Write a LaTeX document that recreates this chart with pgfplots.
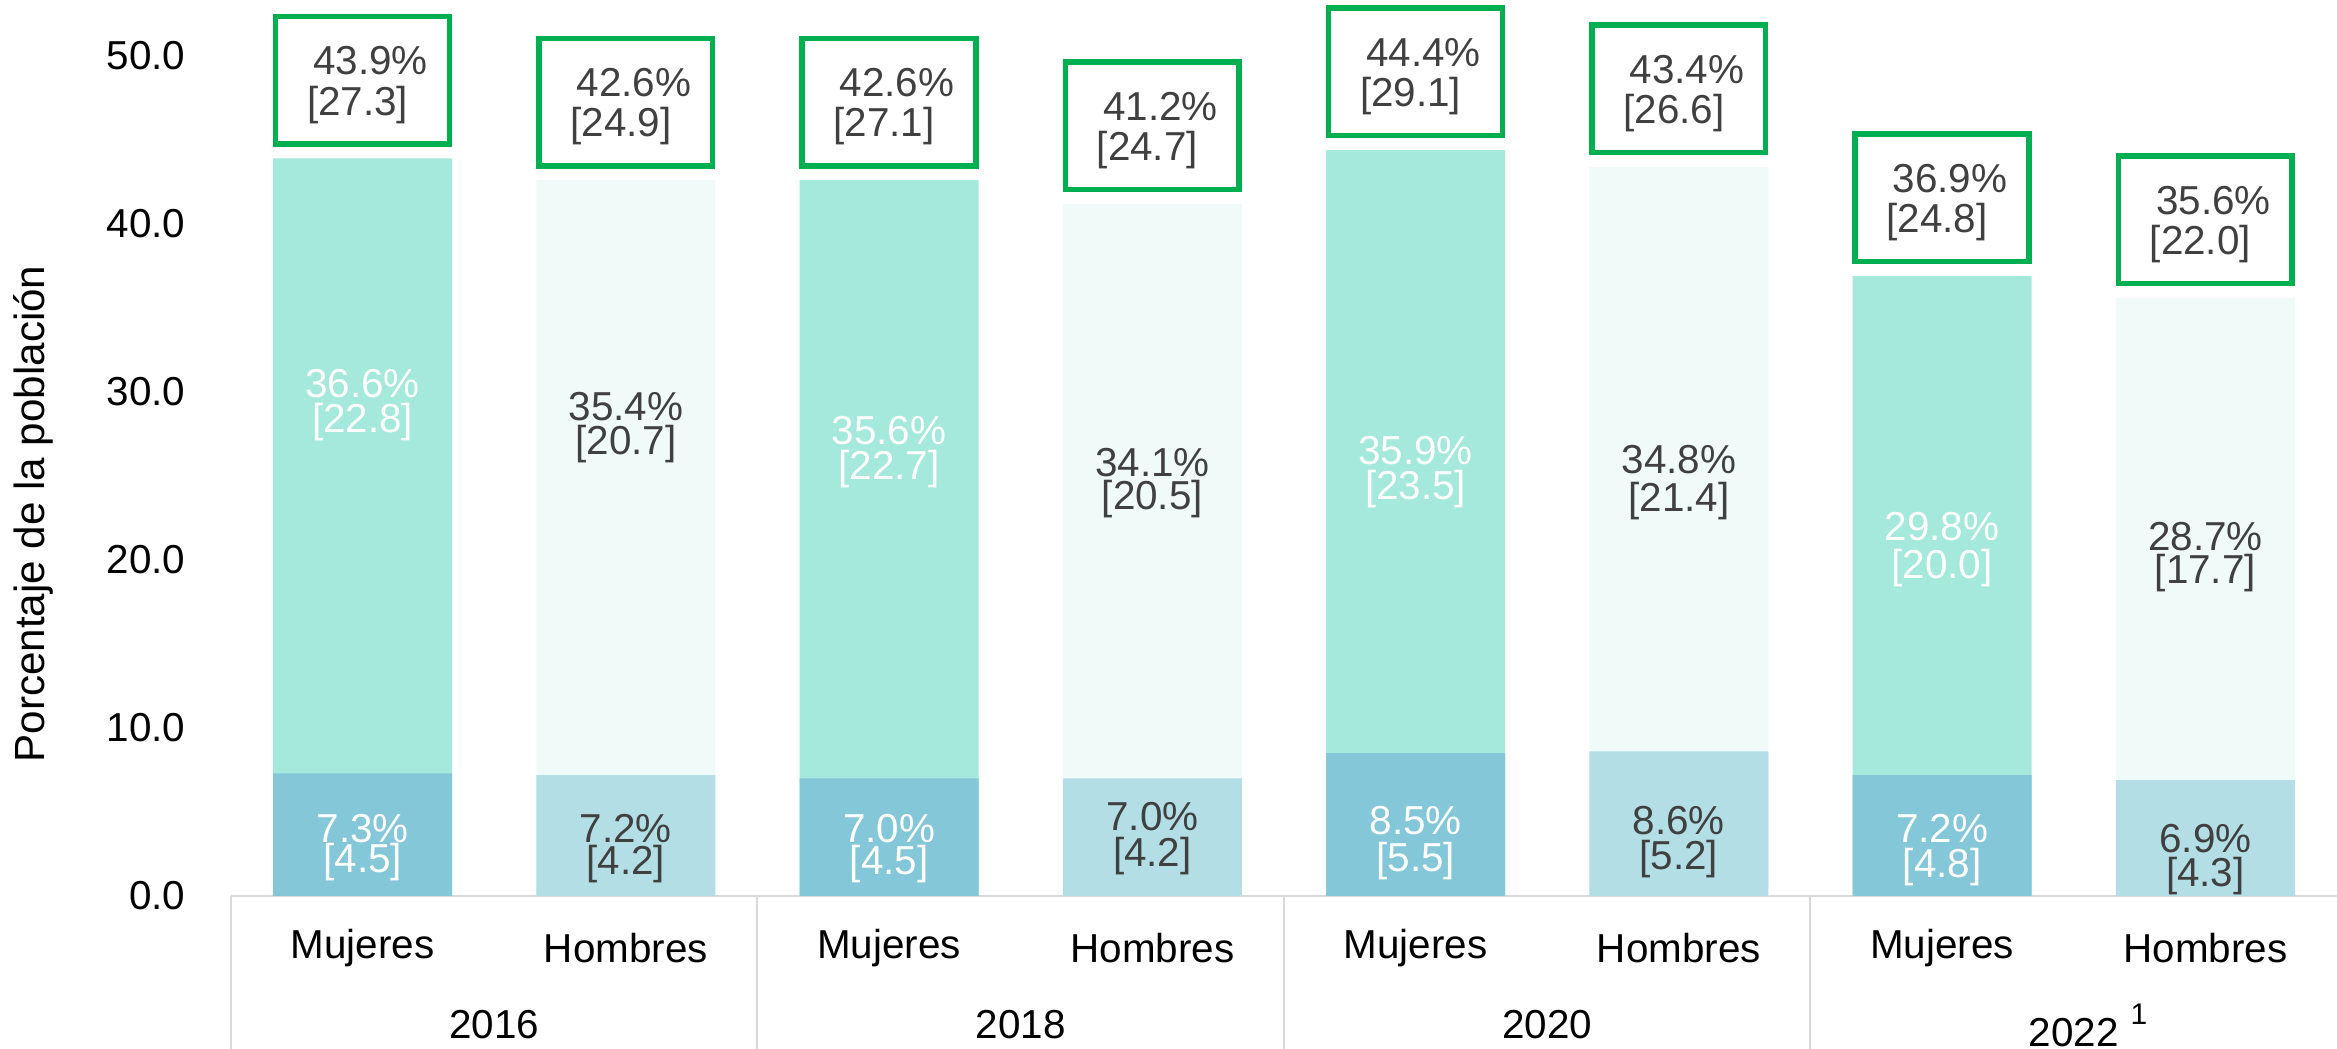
\documentclass[border=0pt]{standalone}
\usepackage{pgfplots}
\pgfplotsset{compat=1.18}
\usepackage{fontspec}
\setmainfont{Liberation Sans}

\definecolor{mujbot}{HTML}{83C7D8}
\definecolor{mujtop}{HTML}{A5E8DC}
\definecolor{hombot}{HTML}{B3DEE6}
\definecolor{homtop}{HTML}{F0FAF8}
\definecolor{boxgreen}{HTML}{00B050}
\definecolor{lblgray}{HTML}{404040}
\definecolor{axgray}{HTML}{D9D9D9}

\newcommand{\lbfont}{\fontsize{11.5}{13}\selectfont}
% label pair inside a segment: x, y of pct, y of bracket, colour, pct, bracket
\newcommand{\lab}[6]{%
  \node[font=\lbfont, text=#4, inner sep=0pt] at (axis cs:#1,#2) {#5};
  \node[font=\lbfont, text=#4, inner sep=0pt] at (axis cs:#1,#3) {[#6]};}
% green box above a bar: x, total, pct, bracket
\newcommand{\tbox}[4]{%
  \draw[boxgreen, line width=0.055cm] (axis cs:{#1-0.33},{#2+0.85}) rectangle (axis cs:{#1+0.33},{#2+8.45});
  \node[font=\lbfont, text=lblgray, inner sep=0pt, xshift=0.08cm] at (axis cs:#1,{#2+5.8}) {#3};
  \node[font=\lbfont, text=lblgray, inner sep=0pt, xshift=-0.05cm] at (axis cs:#1,{#2+3.2}) {[#4]};}

\begin{document}
\begin{tikzpicture}
\path[use as bounding box] (-2.31,-1.53) rectangle (21.06,8.96);
\begin{axis}[
  at={(0,0)}, anchor=south west,
  scale only axis, width=21.06cm, height=8.96cm,
  xmin=-0.5, xmax=7.5, ymin=0, ymax=53.33,
  clip=false,
  axis x line*=bottom, axis y line*=left,
  x axis line style={draw=axgray, line width=0.02cm},
  y axis line style={draw=none},
  major tick length=0pt,
  ytick={0,10,...,50},
  yticklabel style={font=\lbfont, inner sep=0pt, anchor=east, xshift=-0.45cm,
    /pgf/number format/.cd, fixed, fixed zerofill, precision=1, assume math mode=true},
  xtick={0,...,7},
  xticklabels={Mujeres,Hombres,Mujeres,Hombres,Mujeres,Hombres,Mujeres,Hombres},
  xticklabel style={font=\lbfont, inner sep=0pt, anchor=center, yshift=-0.52cm},
  bar/.style={ybar, bar width=0.68, bar shift=0pt, draw=none},
]
% totals (upper segment colour), then lower segment on top
\addplot[bar, fill=mujtop] coordinates {(0,43.9) (2,42.6) (4,44.4) (6,36.9)};
\addplot[bar, fill=mujbot] coordinates {(0,7.3) (2,7.0) (4,8.5) (6,7.2)};
\addplot[bar, fill=homtop] coordinates {(1,42.6) (3,41.2) (5,43.4) (7,35.6)};
\addplot[bar, fill=hombot] coordinates {(1,7.2) (3,7.0) (5,8.6) (7,6.9)};

% lower segment labels
\lab{0}{4.0}{2.0}{white}{7.3\%}{4.5}
\lab{1}{4.0}{1.9}{lblgray}{7.2\%}{4.2}
\lab{2}{4.0}{1.9}{white}{7.0\%}{4.5}
\lab{3}{4.7}{2.4}{lblgray}{7.0\%}{4.2}
\lab{4}{4.5}{2.1}{white}{8.5\%}{5.5}
\lab{5}{4.5}{2.2}{lblgray}{8.6\%}{5.2}
\lab{6}{4.0}{1.7}{white}{7.2\%}{4.8}
\lab{7}{3.4}{1.2}{lblgray}{6.9\%}{4.3}

% upper segment labels
\lab{0}{30.5}{28.2}{white}{36.6\%}{22.8}
\lab{1}{29.1}{26.9}{lblgray}{35.4\%}{20.7}
\lab{2}{27.7}{25.4}{white}{35.6\%}{22.7}
\lab{3}{25.8}{23.6}{lblgray}{34.1\%}{20.5}
\lab{4}{26.5}{24.2}{white}{35.9\%}{23.5}
\lab{5}{26.0}{23.5}{lblgray}{34.8\%}{21.4}
\lab{6}{22.0}{19.5}{white}{29.8\%}{20.0}
\lab{7}{21.4}{19.2}{lblgray}{28.7\%}{17.7}

% totals in green boxes
\tbox{0}{43.9}{43.9\%}{27.3}
\tbox{1}{42.6}{42.6\%}{24.9}
\tbox{2}{42.6}{42.6\%}{27.1}
\tbox{3}{41.2}{41.2\%}{24.7}
\tbox{4}{44.4}{44.4\%}{29.1}
\tbox{5}{43.4}{43.4\%}{26.6}
\tbox{6}{36.9}{36.9\%}{24.8}
\tbox{7}{35.6}{35.6\%}{22.0}

% year group separators and labels
\draw[axgray, line width=0.02cm] (axis cs:-0.5,0) -- ++(0pt,-1.6cm);
\draw[axgray, line width=0.02cm] (axis cs:1.5,0) -- ++(0pt,-1.6cm);
\draw[axgray, line width=0.02cm] (axis cs:3.5,0) -- ++(0pt,-1.6cm);
\draw[axgray, line width=0.02cm] (axis cs:5.5,0) -- ++(0pt,-1.6cm);
\node[font=\lbfont, inner sep=0pt] at (axis cs:0.5,0) [yshift=-1.29cm] {2016};
\node[font=\lbfont, inner sep=0pt] at (axis cs:2.5,0) [yshift=-1.29cm] {2018};
\node[font=\lbfont, inner sep=0pt] at (axis cs:4.5,0) [yshift=-1.29cm] {2020};
\node[font=\lbfont, inner sep=0pt] at (axis cs:6.5,0) [yshift=-1.29cm] {2022\rlap{\hspace{0.12cm}\raisebox{0.22cm}{\fontsize{8.5}{9}\selectfont 1}}};
\end{axis}
\node[rotate=90, font=\fontsize{12}{14}\selectfont, inner sep=0pt] at (-1.98,3.82) {Porcentaje de la población};
\end{tikzpicture}
\end{document}
